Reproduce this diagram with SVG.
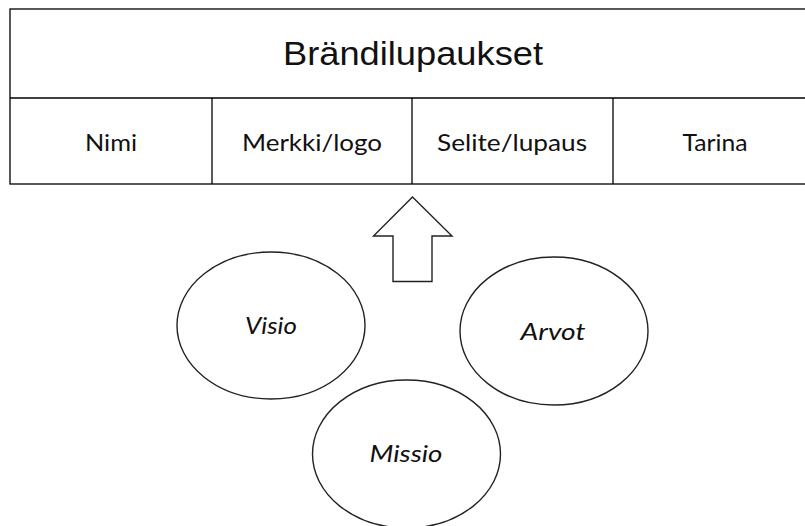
<svg xmlns="http://www.w3.org/2000/svg" width="805" height="526" viewBox="0 0 805 526">
<style>
.ln{fill:none;stroke:#000;stroke-width:1.3}
.sh{fill:#fff;stroke:#222;stroke-width:1.4}
.t{font-family:Lato,"Open Sans",sans-serif;font-size:24px;fill:#111;text-anchor:middle}
.i{font-family:Lato,"Open Sans",sans-serif;font-size:24px;font-style:italic;fill:#111;text-anchor:middle}
</style>
<rect width="805" height="526" fill="#fff"/>
<g id="table">
<rect x="10" y="9" width="800" height="175" class="ln"/>
<line x1="10" y1="98" x2="805" y2="98" class="ln"/>
<line x1="212" y1="98" x2="212" y2="184" class="ln"/>
<line x1="412" y1="98" x2="412" y2="184" class="ln"/>
<line x1="613" y1="98" x2="613" y2="184" class="ln"/>
<text x="413" y="65" font-family="Liberation Sans,Arial,sans-serif" font-size="33" text-anchor="middle" fill="#111" textLength="260" lengthAdjust="spacingAndGlyphs">Brändilupaukset</text>
<text x="111" y="151" class="t" textLength="52" lengthAdjust="spacingAndGlyphs">Nimi</text>
<text x="312" y="151" class="t" textLength="140" lengthAdjust="spacingAndGlyphs">Merkki/logo</text>
<text x="512" y="151" class="t" textLength="150" lengthAdjust="spacingAndGlyphs">Selite/lupaus</text>
<text x="715" y="151" class="t" textLength="65" lengthAdjust="spacingAndGlyphs">Tarina</text>
</g>
<g id="connectors">
<polygon points="412.5,197 452,236 432,236 432,281.5 393,281.5 393,236 373.5,236" class="sh"/>
</g>
<g id="visio"><ellipse cx="271" cy="325.5" rx="94" ry="73.5" class="sh"/><text x="271" y="334" class="i" textLength="52" lengthAdjust="spacingAndGlyphs">Visio</text></g>
<g id="arvot"><ellipse cx="554" cy="331" rx="94" ry="74" class="sh"/><text x="553" y="340" class="i" textLength="65" lengthAdjust="spacingAndGlyphs">Arvot</text></g>
<g id="missio"><ellipse cx="406.5" cy="454" rx="94" ry="74" class="sh"/><text x="406" y="462" class="i" textLength="73" lengthAdjust="spacingAndGlyphs">Missio</text></g>
</svg>
